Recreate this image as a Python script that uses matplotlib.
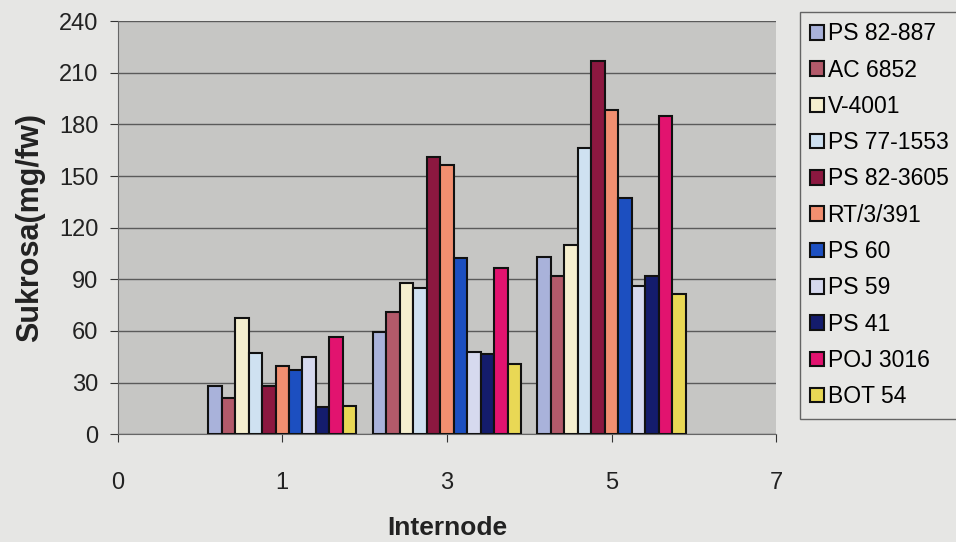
import matplotlib.pyplot as plt
import numpy as np

plt.rcParams['font.family'] = ['Liberation Sans', 'DejaVu Sans']

# sucrose content per internode for each clone
internodes = ['1', '3', '5']
tick_labels = ['0', '1', '3', '5', '7']
clones = ['PS 82-887', 'AC 6852', 'V-4001', 'PS 77-1553', 'PS 82-3605',
          'RT/3/391', 'PS 60', 'PS 59', 'PS 41', 'POJ 3016', 'BOT 54']
sukrosa = {
    'PS 82-887': [28, 59.5, 103],
    'AC 6852': [21, 71, 92],
    'V-4001': [67.5, 88, 110],
    'PS 77-1553': [47, 85, 166],
    'PS 82-3605': [28, 161, 217],
    'RT/3/391': [39.5, 156.5, 188.5],
    'PS 60': [37.5, 102.5, 137.5],
    'PS 59': [45, 47.5, 86],
    'PS 41': [15.5, 46.5, 92],
    'POJ 3016': [56.5, 96.5, 185],
    'BOT 54': [16.5, 41, 81.5],
}
colors = ['#a9b2da', '#b35a6a', '#f5efcf', '#cfe1f1', '#8c1840', '#f28f70',
          '#1c4fc0', '#d6d9ee', '#141c6c', '#e2136f', '#e9d855']

fig = plt.figure(figsize=(9.56, 5.42), dpi=100, facecolor='#e6e6e4')
ax = fig.add_axes([0.123, 0.199, 0.689, 0.762])
ax.set_facecolor('#c6c6c4')

group_pos = np.arange(1, len(internodes) + 1)
n = len(clones)
width = 0.9 / n
for i, (clone, color) in enumerate(zip(clones, colors)):
    offset = (i - (n - 1) / 2) * width
    ax.bar(group_pos + offset, sukrosa[clone], width, color=color,
           edgecolor='#111111', linewidth=1.5, label=clone, zorder=3)

ax.set_xlim(0, 4)
ax.set_ylim(0, 240)
ax.set_yticks(np.arange(0, 241, 30))
ax.set_xticks(np.arange(len(tick_labels)))
ax.set_xticklabels(tick_labels)
ax.yaxis.grid(True, color='#5a5a5a', linewidth=1.0, zorder=0)
ax.tick_params(axis='both', labelsize=17, colors='#333333', length=6,
               direction='out', labelcolor='#222222')
ax.tick_params(axis='x', pad=21)
ax.tick_params(axis='y', pad=8)
for side in ['top', 'right']:
    ax.spines[side].set_visible(False)
for side in ['left', 'bottom']:
    ax.spines[side].set_color('#666666')

ax.set_ylabel('Sukrosa(mg/fw)', fontsize=22, fontweight='bold', labelpad=10,
              color='#222222')
ax.set_xlabel('Internode', fontsize=19, fontweight='bold', labelpad=16,
              color='#222222')

leg = fig.legend(loc='upper left', bbox_to_anchor=(800 / 956, 1 - 12 / 542),
                 fontsize=16.5, frameon=True, fancybox=False,
                 handlelength=0.6, handleheight=0.6, handletextpad=0.15,
                 labelspacing=0.58, borderpad=0.45, borderaxespad=0)
leg.get_frame().set_edgecolor('#444444')
leg.get_frame().set_facecolor('#e8e8e6')
leg.get_frame().set_linewidth(1.0)

fig.savefig('out.png', dpi=100, facecolor=fig.get_facecolor())
